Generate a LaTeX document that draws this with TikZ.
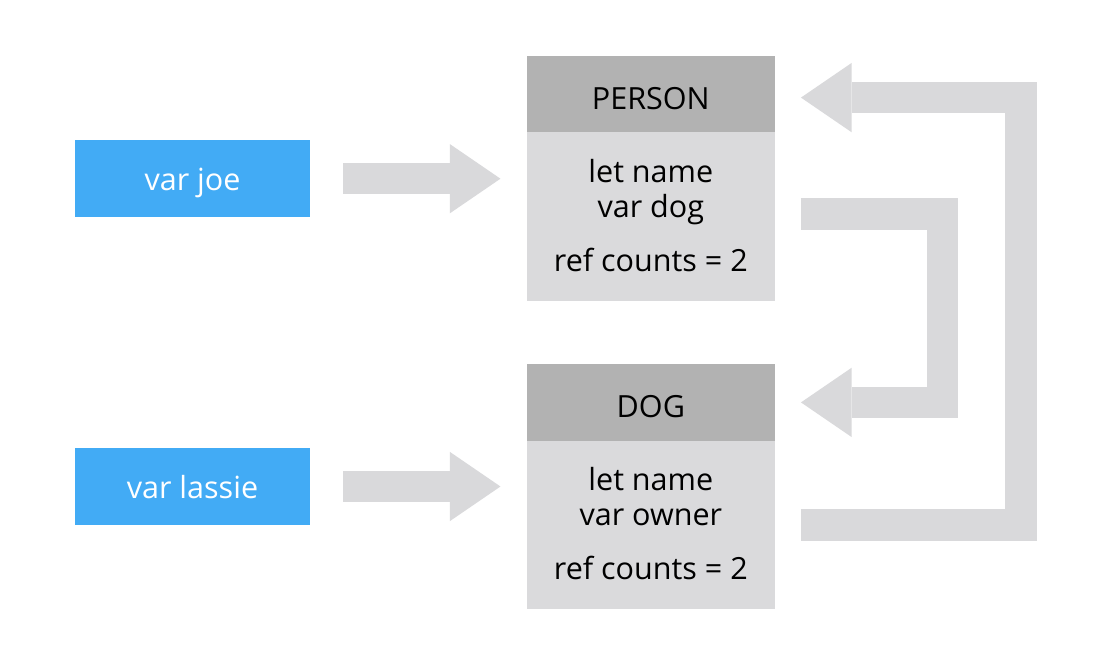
\documentclass[tikz,border=0pt]{standalone}
\usepackage{fontspec}
\setmainfont{Open Sans}
\usetikzlibrary{arrows.meta}
\definecolor{varblue}{RGB}{66,171,245}
\definecolor{headgrey}{RGB}{178,178,178}
\definecolor{bodygrey}{RGB}{218,218,220}
\definecolor{arrowgrey}{RGB}{217,217,219}
\tikzset{
  txt/.style={font=\fontsize{22.9}{27}\selectfont, inner sep=0pt, anchor=base},
  varbox/.style={fill=varblue, draw=none, inner sep=0pt, minimum width=176.25pt, minimum height=57.75pt},
  headbox/.style={fill=headgrey, draw=none, inner sep=0pt, minimum width=186.2pt, minimum height=57.5pt},
  bodybox/.style={fill=bodygrey, draw=none, inner sep=0pt, minimum width=186.2pt, minimum height=126.3pt},
  blockarrow/.style={draw=arrowgrey, line width=23.7pt, line cap=butt, line join=miter,
    -{Triangle[length=38pt, width=52pt, line width=0pt]}}
}
\begin{document}
\begin{tikzpicture}[x=0.75pt,y=-0.75pt]
\path[use as bounding box, fill=white] (0,0) rectangle (1112,666);
% boxes
\node[varbox] (joe) at (192.5,178.7) {};
\node[varbox] (lassie) at (192.5,486.5) {};
\node[headbox] (personhead) at (650.85,94.4) {};
\node[bodybox] (personbody) at (650.85,216.7) {};
\node[headbox] (doghead) at (650.85,402.4) {};
\node[bodybox] (dogbody) at (650.85,525) {};
% texts
\node[txt, text=white] (joetxt) at (192.5,190.7) {var joe};
\node[txt, text=white] (lassietxt) at (192.5,498.5) {var lassie};
\node[txt] (ptitle) at (650.85,109.3) {PERSON};
\node[txt] (pl1) at (650.85,182.7) {let name};
\node[txt] (pl2) at (650.85,217.2) {var dog};
\node[txt] (pl3) at (650.85,271.7) {ref counts = 2};
\node[txt] (dtitle) at (650.85,417.3) {DOG};
\node[txt] (dl1) at (650.85,490.7) {let name};
\node[txt] (dl2) at (650.85,525.2) {var owner};
\node[txt] (dl3) at (650.85,579.7) {ref counts = 2};
% routing coordinates
\coordinate (midx) at (942.5,0);
\coordinate (outx) at (1020.85,0);
\coordinate (dogout) at ([yshift=2.1pt]personbody.east);
\coordinate (persin) at ([yshift=-2.4pt]personhead.east);
% connectors
\draw[blockarrow] ([xshift=24.6pt]joe.east) -- ([xshift=-19.5pt]personbody.west |- joe.east);
\draw[blockarrow] ([xshift=24.6pt]lassie.east) -- ([xshift=-19.5pt]dogbody.west |- lassie.east);
\draw[blockarrow] ([xshift=19.3pt]dogout) -- (dogout -| midx) -- (doghead.east -| midx) -- ([xshift=19.3pt]doghead.east);
\draw[blockarrow] ([xshift=19.3pt]dogbody.east) -- (dogbody.east -| outx) -- (persin -| outx) -- ([xshift=19.3pt]persin);
\end{tikzpicture}
\end{document}
